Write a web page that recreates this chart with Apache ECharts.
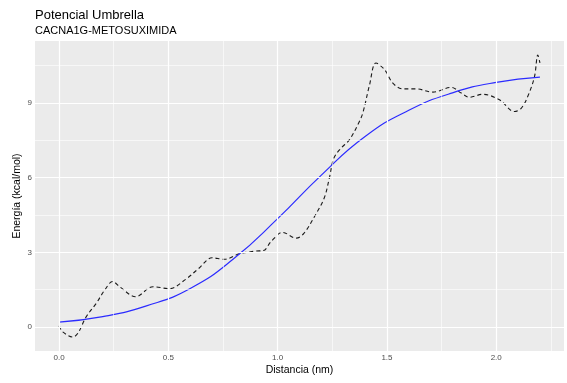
<!DOCTYPE html>
<html>
<head>
<meta charset="utf-8">
<script src="https://cdn.jsdelivr.net/npm/echarts@6/dist/echarts.min.js"></script>
<style>
  html, body { margin: 0; padding: 0; background: #ffffff; }
  #chart { width: 567px; height: 383px; }
</style>
</head>
<body>
<div id="chart"></div>
<script>
// Umbrella sampling potential of mean force (raw profile) and its smooth fit
const distRaw = [0, 0.017, 0.063, 0.086, 0.124, 0.17, 0.21, 0.245, 0.28, 0.35, 0.43, 0.505, 0.58, 0.64, 0.70, 0.757, 0.825, 0.9, 0.935, 0.97, 1.023, 1.085, 1.12, 1.176, 1.214, 1.237, 1.257, 1.29, 1.328, 1.374, 1.39, 1.42, 1.45, 1.49, 1.527, 1.572, 1.633, 1.71, 1.794, 1.84, 1.877, 1.938, 2.015, 2.083, 2.114, 2.144, 2.175, 2.19, 2.2];
const energyRaw = [0.05, -0.19, -0.4, -0.25, 0.41, 0.95, 1.5, 1.83, 1.6, 1.22, 1.62, 1.54, 1.92, 2.36, 2.78, 2.72, 2.94, 3.05, 3.07, 3.43, 3.8, 3.57, 3.76, 4.55, 5.2, 6.0, 6.77, 7.18, 7.51, 8.25, 8.6, 9.7, 10.6, 10.32, 9.79, 9.56, 9.56, 9.43, 9.62, 9.39, 9.22, 9.34, 9.12, 8.65, 8.78, 9.25, 10.05, 10.92, 10.6];

const distFit = [0, 0.2, 0.4, 0.6, 0.8, 1.0, 1.2, 1.4, 1.6, 1.8, 2.0, 2.2];
const energyFit = [0.2, 0.42, 0.85, 1.55, 2.75, 4.35, 6.1, 7.65, 8.7, 9.4, 9.82, 10.03];

// Axis breaks
const xMajor = [0, 0.5, 1.0, 1.5, 2.0];
const xMinor = [0.25, 0.75, 1.25, 1.75, 2.25];
const yMajor = [0, 3, 6, 9];
const yMinor = [1.5, 4.5, 7.5, 10.5];

const pairs = (xs, ys) => xs.map((x, i) => [x, ys[i]]);

const gridLines = [].concat(
  xMinor.map(v => ({ xAxis: v, lineStyle: { width: 0.6 } })),
  yMinor.map(v => ({ yAxis: v, lineStyle: { width: 0.6 } })),
  xMajor.map(v => ({ xAxis: v, lineStyle: { width: 1.2 } })),
  yMajor.map(v => ({ yAxis: v, lineStyle: { width: 1.2 } }))
);

const FONT = '"Liberation Sans", Arial, sans-serif';

const chart = echarts.init(document.getElementById('chart'), null, { renderer: 'canvas' });
chart.setOption({
  animation: false,
  backgroundColor: '#ffffff',
  textStyle: { fontFamily: FONT },
  title: {
    text: 'Potencial Umbrella',
    subtext: 'CACNA1G-METOSUXIMIDA',
    left: 35,
    top: 9,
    padding: 0,
    itemGap: 3,
    textStyle: { fontFamily: FONT, fontSize: 13, fontWeight: 'normal', color: '#000000' },
    subtextStyle: { fontFamily: FONT, fontSize: 11, color: '#000000' }
  },
  grid: {
    left: 35, right: 3, top: 41, bottom: 32,
    show: true, backgroundColor: '#EBEBEB', borderWidth: 0
  },
  xAxis: {
    type: 'value',
    min: -0.11, max: 2.31,
    name: 'Distancia (nm)',
    nameLocation: 'middle',
    nameGap: 14,
    nameMoveOverlap: false,
    nameTextStyle: { fontFamily: FONT, fontSize: 10.5, color: '#000000' },
    axisLine: { show: false },
    axisTick: { show: true, length: 3, customValues: xMajor, lineStyle: { color: '#333333', width: 1 } },
    axisLabel: {
      customValues: xMajor, margin: 3, fontSize: 8, color: '#4D4D4D', fontFamily: FONT,
      formatter: v => v.toFixed(1)
    },
    splitLine: { show: false }
  },
  yAxis: {
    type: 'value',
    min: -0.96, max: 11.48,
    name: 'Energía (kcal/mol)',
    nameLocation: 'middle',
    nameGap: 12,
    nameMoveOverlap: false,
    nameTextStyle: { fontFamily: FONT, fontSize: 10.5, color: '#000000' },
    axisLine: { show: false },
    axisTick: { show: true, length: 3, customValues: yMajor, lineStyle: { color: '#333333', width: 1 } },
    axisLabel: {
      customValues: yMajor, margin: 3, fontSize: 8, color: '#4D4D4D', fontFamily: FONT,
      formatter: v => String(v)
    },
    splitLine: { show: false }
  },
  series: [
    {
      name: 'grid',
      type: 'line',
      data: [],
      silent: true,
      z: 1,
      markLine: {
        silent: true,
        symbol: 'none',
        label: { show: false },
        animation: false,
        lineStyle: { color: '#FFFFFF', type: 'solid' },
        data: gridLines
      }
    },
    {
      name: 'pmf',
      type: 'line',
      data: pairs(distRaw, energyRaw),
      smooth: 0.35,
      showSymbol: false,
      z: 3,
      lineStyle: { color: '#1a1a1a', width: 1.1, type: [4, 3] }
    },
    {
      name: 'fit',
      type: 'line',
      data: pairs(distFit, energyFit),
      smooth: 0.5,
      showSymbol: false,
      z: 4,
      lineStyle: { color: '#2B2BFF', width: 1.2 }
    }
  ]
});
</script>
</body>
</html>
